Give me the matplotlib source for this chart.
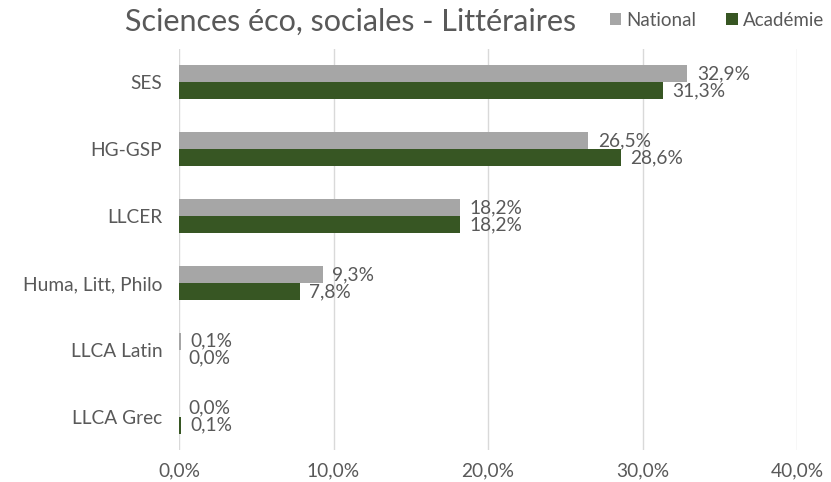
import matplotlib
matplotlib.use("Agg")
import matplotlib.pyplot as plt
import numpy as np

categories = ["SES", "HG-GSP", "LLCER", "Huma, Litt, Philo", "LLCA Latin", "LLCA Grec"]
national = [32.9, 26.5, 18.2, 9.3, 0.1, 0.0]
academie = [31.3, 28.6, 18.2, 7.8, 0.0, 0.1]
xticks = [0, 10, 20, 30, 40]
xticklabels = ["0,0%", "10,0%", "20,0%", "30,0%", "40,0%"]
title = "Sciences éco, sociales - Littéraires"

plt.rcParams['font.family'] = ['Lato', 'DejaVu Sans']
TXT = "#595959"
C_NAT = "#a6a6a6"
C_ACA = "#375623"
FS = 13.8

fig = plt.figure(figsize=(8.31, 4.82), dpi=100)
ax = fig.add_axes([179/831, 1-450/482, (797-179)/831, (450-49)/482])

y = np.arange(len(categories))
h = 0.255
bn = ax.barh(y - h/2, national, height=h, color=C_NAT, label="National", zorder=3)
ba = ax.barh(y + h/2, academie, height=h, color=C_ACA, label="Académie", zorder=3)

def fmt(v):
    return f"{v:.1f}%".replace(".", ",")

for bars, vals in ((bn, national), (ba, academie)):
    for b, v in zip(bars, vals):
        ax.annotate(fmt(v), (b.get_width(), b.get_y() + b.get_height()/2),
                    xytext=(7, 0), textcoords="offset points",
                    ha="left", va="center", fontsize=FS, color=TXT)

ax.set_xlim(0, 40)
ax.set_ylim(len(categories) - 0.5, -0.5)
ax.set_yticks(y)
ax.set_yticklabels(categories, fontsize=FS, color=TXT)
ax.set_xticks(xticks)
ax.set_xticklabels(xticklabels, fontsize=FS, color=TXT)
ax.tick_params(axis="both", length=0)
ax.tick_params(axis="y", pad=12)
ax.tick_params(axis="x", pad=9)
ax.grid(axis="x", color="#d9d9d9", linewidth=1, zorder=0)
for s in ax.spines.values():
    s.set_visible(False)

fig.text(351/831, 1-22/482, title, ha="center", va="center", fontsize=22, color=TXT)
leg = fig.legend(handles=[bn, ba], labels=["National", "Académie"], loc="center",
                 bbox_to_anchor=(717/831, 1-20/482), ncol=2, frameon=False,
                 fontsize=13.5, handlelength=0.6, handleheight=0.6, handletextpad=0.3,
                 columnspacing=1.6, labelcolor=TXT, borderpad=0, borderaxespad=0)

fig.savefig("out.png", dpi=100)
